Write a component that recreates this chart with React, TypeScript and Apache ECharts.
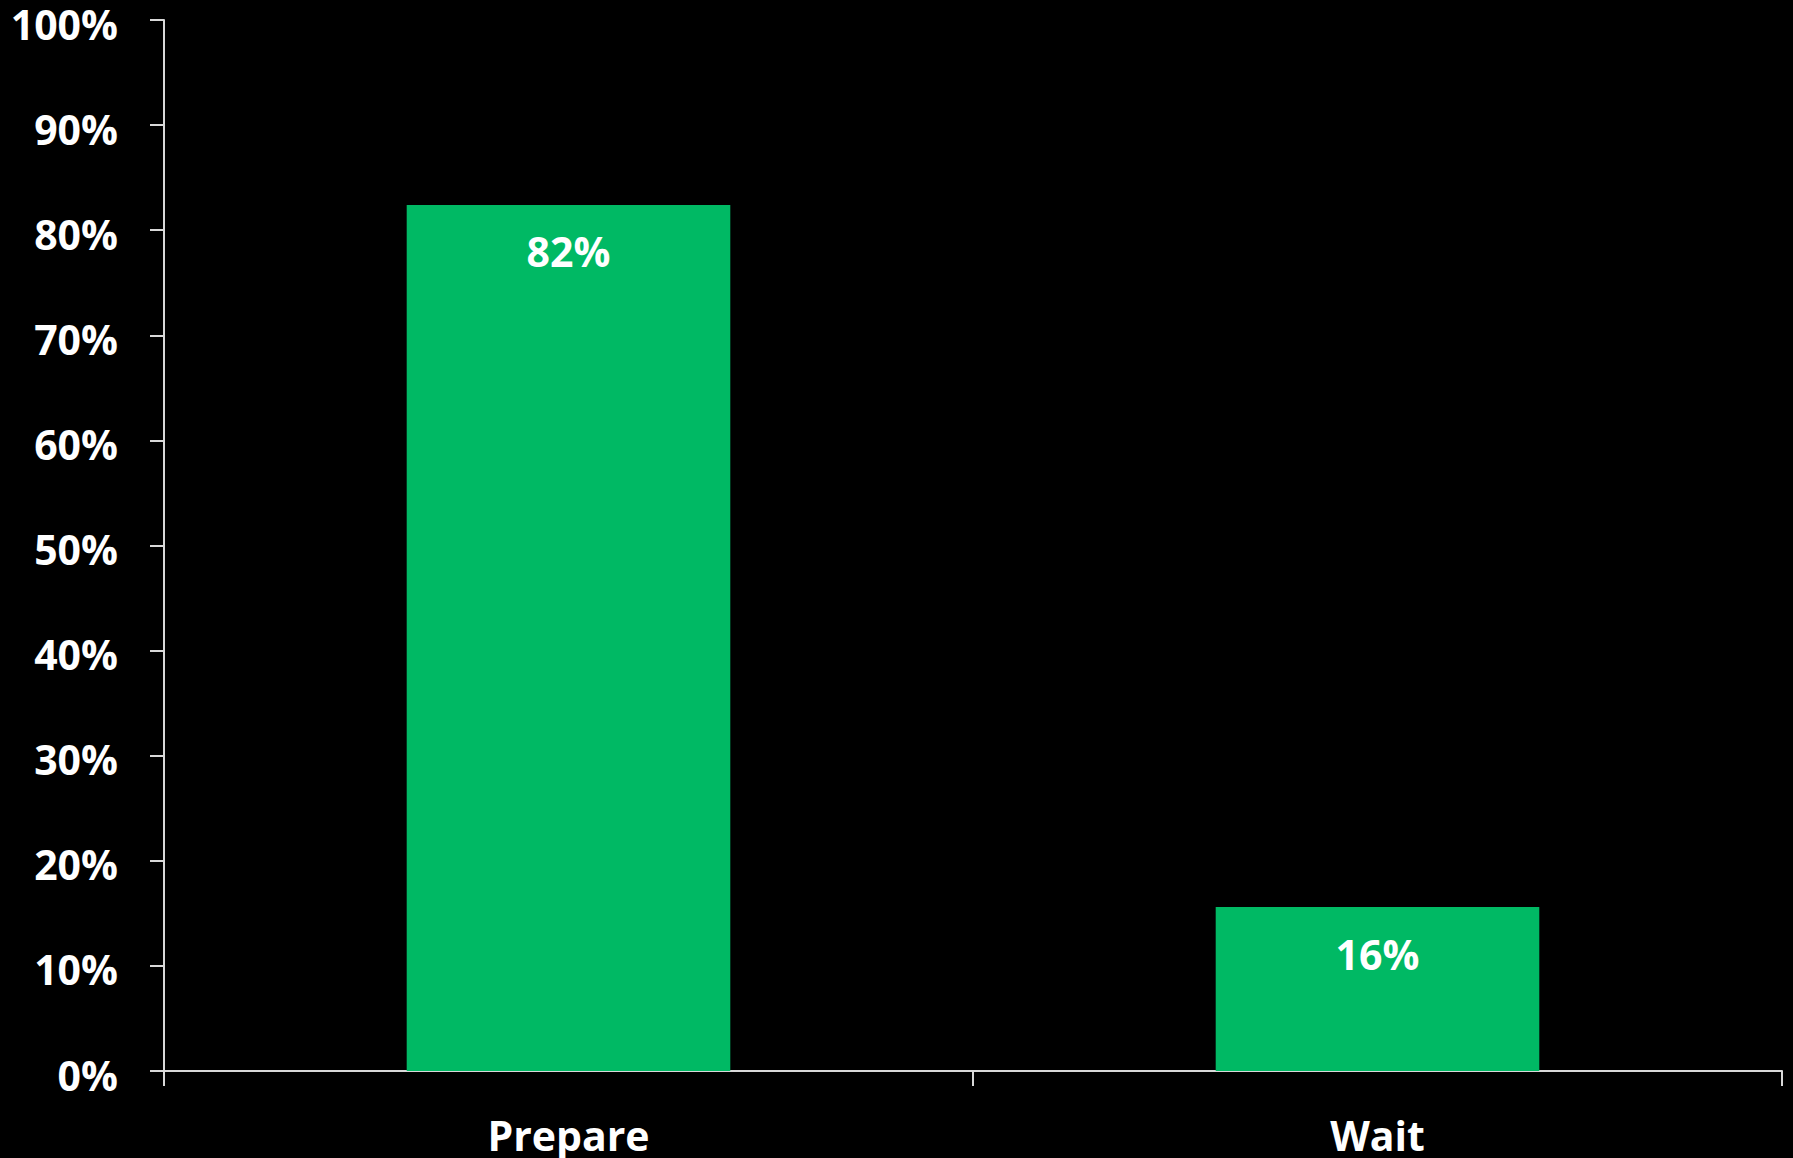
import React, { useEffect, useRef } from "react";
import * as echarts from "echarts";

const categories = ["Prepare", "Wait"];
const values = [82.4, 15.6];
const valueLabels = ["82%", "16%"];
const yTicks = [0, 10, 20, 30, 40, 50, 60, 70, 80, 90, 100];

export default function App() {
  const ref = useRef<HTMLDivElement>(null);
  useEffect(() => {
    if (!ref.current) return;
    const chart = echarts.init(ref.current, undefined, { renderer: "svg" });
    const font = "'Open Sans', 'DejaVu Sans', sans-serif";
    chart.setOption({
      animation: false,
      backgroundColor: "#000000",
      grid: { left: 164, right: 11, top: 20, bottom: 87, containLabel: false, outerBoundsMode: "none" },
      xAxis: {
        type: "category",
        data: categories,
        axisLine: { show: true, lineStyle: { color: "#D9D9D9", width: 2 } },
        axisTick: { show: true, length: 15, lineStyle: { color: "#D9D9D9", width: 2 } },
        axisLabel: {
          color: "#FFFFFF",
          fontFamily: font,
          fontWeight: "bold",
          fontSize: 41,
          margin: 43,
        },
      },
      yAxis: {
        type: "value",
        min: 0,
        max: 100,
        interval: 10,
        splitLine: { show: false },
        axisLine: { show: true, lineStyle: { color: "#D9D9D9", width: 2 } },
        axisTick: { show: true, length: 14, lineStyle: { color: "#D9D9D9", width: 2 } },
        axisLabel: {
          color: "#FFFFFF",
          fontFamily: font,
          fontWeight: "bold",
          fontSize: 41,
          margin: 46,
          formatter: (v: number) => (yTicks.includes(v) ? "{a|" + v + "%}" : ""),
          rich: {
            a: {
              color: "#FFFFFF",
              fontFamily: font,
              fontWeight: "bold",
              fontSize: 41,
              lineHeight: 46,
              padding: [7, 0, 0, 0],
            },
          },
        },
      },
      series: [
        {
          type: "bar",
          data: values,
          barWidth: "40%",
          itemStyle: { color: "#00B964" },
          label: {
            show: true,
            position: "insideTop",
            distance: 26,
            color: "#FFFFFF",
            fontFamily: font,
            fontWeight: "bold",
            fontSize: 41,
            formatter: (p: any) => valueLabels[p.dataIndex],
          },
        },
      ],
    });
    return () => chart.dispose();
  }, []);
  return (
    <div
      ref={ref}
      style={{ position: "fixed", left: 0, top: 0, width: 1793, height: 1158, background: "#000" }}
    />
  );
}
